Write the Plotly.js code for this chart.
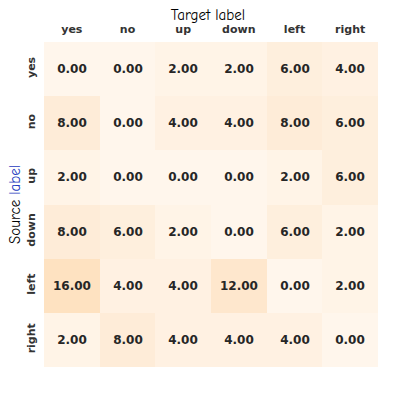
<!DOCTYPE html>
<html>
<head>
<meta charset="utf-8">
<script src="https://cdn.plot.ly/plotly-3.0.1.min.js"></script>
<style>
  html, body { margin: 0; padding: 0; background: #fff; }
  #chart { width: 416px; height: 402px; }
</style>
</head>
<body>
<div id="chart"></div>
<script>
// confusion matrix: rows = source, columns = target
const labels = ['yes', 'no', 'up', 'down', 'left', 'right'];
const counts = [
    [0, 0, 2, 2, 6, 4],
    [8, 0, 4, 4, 8, 6],
    [2, 0, 0, 0, 2, 6],
    [8, 6, 2, 0, 6, 2],
    [16, 4, 4, 12, 0, 2],
    [2, 8, 4, 4, 4, 0]
];

const trace = {
    type: 'heatmap',
    x: labels,
    y: labels,
    z: counts,
    zmin: 0,
    zmax: 16,
    colorscale: [[0, '#fff6ec'], [0.5, '#feecd8'], [1, '#fee2c1']],
    showscale: false,
    texttemplate: '%{z:.2f}',
    textfont: { family: 'DejaVu Sans', size: 12, color: '#262626', weight: 'bold' },
    hoverinfo: 'skip'
};

const tickFont = { family: 'DejaVu Sans', size: 11, color: '#333333', weight: 'bold' };
const titleFamily = 'Comic Sans MS, Comic Neue, DejaVu Sans';

const layout = {
    width: 416,
    height: 402,
    margin: { l: 44, r: 38, t: 42, b: 35 },
    paper_bgcolor: '#ffffff',
    plot_bgcolor: '#ffffff',
    title: {
        text: 'Target label',
        font: { family: titleFamily, size: 15, color: '#000000' },
        x: 0.5,
        xanchor: 'center',
        y: 0.976,
        yanchor: 'top'
    },
    xaxis: {
        side: 'top',
        type: 'category',
        tickfont: tickFont,
        ticks: '',
        ticklabelstandoff: 6,
        showgrid: false,
        zeroline: false,
        showline: false
    },
    yaxis: {
        type: 'category',
        autorange: 'reversed',
        tickfont: tickFont,
        tickangle: -90,
        ticks: '',
        ticklabelstandoff: 6,
        showgrid: false,
        zeroline: false,
        showline: false,
        title: {
            text: 'Source <span style="color:#1f3cc0">label</span>',
            font: { family: titleFamily, size: 15, color: '#000000' },
            standoff: 0
        }
    }
};

Plotly.newPlot('chart', [trace], layout, { displayModeBar: false, staticPlot: true });
</script>
</body>
</html>
